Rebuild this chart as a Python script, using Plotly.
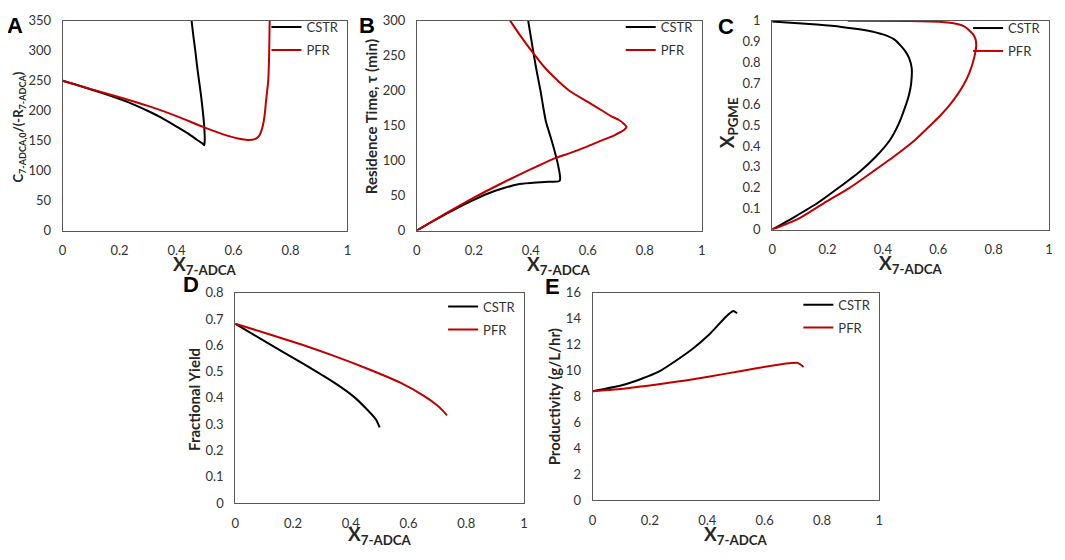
import plotly.graph_objects as go

# the page body keeps its default 8px margin: the figure is sized to fit the
# window inside it, and laid out below in window pixels
W, H = 1065, 560
OFF = 8
FW, FH = W - 2 * OFF, H - 2 * OFF
RED = "#c00000"
FONT = "Lato"

# ---- A: C7-ADCA,0/(-R7-ADCA) vs X7-ADCA
a_cstr_x = [0, 0.05, 0.1, 0.15, 0.232, 0.3, 0.348, 0.4, 0.441, 0.47, 0.49, 0.497,
            0.499, 0.497, 0.492, 0.486, 0.479, 0.472, 0.466, 0.459, 0.453, 0.447]
a_cstr_y = [250, 243, 235.5, 228, 214, 199.5, 188, 173.5, 161.7, 152, 145.5, 142.3,
            150, 175, 200, 225, 250, 275, 300, 325, 350, 375]
a_pfr_x = [0, 0.1, 0.2, 0.3, 0.4, 0.497, 0.581, 0.62, 0.65, 0.675, 0.69,
           0.703, 0.71, 0.714, 0.718, 0.722, 0.725, 0.727, 0.729]
a_pfr_y = [250, 236, 222.5, 208, 191, 172.2, 158, 153, 151.2, 152.5, 158,
           175, 195, 215, 232, 250, 290, 350, 400]

# ---- B: residence time vs X7-ADCA
b_cstr_x = [0, 0.05, 0.1, 0.15, 0.2, 0.25, 0.3, 0.36, 0.42, 0.47, 0.497, 0.502,
            0.503, 0.495, 0.486, 0.47, 0.453, 0.443, 0.434, 0.422, 0.411, 0.401,
            0.391, 0.385]
b_cstr_y = [0, 12, 23, 34, 44, 53, 60, 66.5, 68.8, 69.8, 70.3, 71.5,
            76, 95, 110, 133, 156, 178, 200, 225, 250, 275, 300, 320]
b_pfr_x = [0, 0.1, 0.2, 0.3, 0.362, 0.42, 0.488, 0.537, 0.595, 0.653, 0.69,
           0.711, 0.726, 0.736, 0.727, 0.711, 0.68, 0.653, 0.6, 0.534, 0.484,
           0.445, 0.412, 0.37, 0.328, 0.3]
b_pfr_y = [0, 24, 47, 68, 80.3, 91.5, 104, 110.7, 119.7, 129.6, 135.5,
           140, 143.5, 148, 152.5, 157.8, 164, 171, 184, 200.4, 218.5,
           235, 252, 275, 300, 320]

# ---- C: X_PGME vs X7-ADCA
c_cstr_x = [0, 0.08, 0.164, 0.24, 0.316, 0.375, 0.425, 0.455, 0.478, 0.495,
            0.502, 0.504, 0.495, 0.483, 0.465, 0.442, 0.4, 0.337, 0.25, 0.161,
            0.08, 0]
c_cstr_y = [0, 0.06, 0.127, 0.2, 0.277, 0.35, 0.428, 0.5, 0.578, 0.65,
            0.7, 0.774, 0.82, 0.85, 0.88, 0.91, 0.935, 0.955, 0.971, 0.982,
            0.99, 0.997]
c_pfr_x = [0, 0.094, 0.187, 0.28, 0.363, 0.44, 0.515, 0.572, 0.61, 0.643, 0.671,
           0.694, 0.712, 0.725, 0.734, 0.737, 0.735, 0.726, 0.715, 0.7, 0.682,
           0.65, 0.612, 0.5, 0.273]
c_pfr_y = [0, 0.051, 0.127, 0.2, 0.277, 0.35, 0.428, 0.5, 0.55, 0.6, 0.65,
           0.7, 0.75, 0.8, 0.85, 0.88, 0.91, 0.935, 0.95, 0.968, 0.98,
           0.99, 0.995, 0.999, 1.0]

# ---- D: fractional yield vs X7-ADCA
d_cstr_x = [0, 0.1145, 0.229, 0.344, 0.412, 0.458, 0.487, 0.5]
d_cstr_y = [0.682, 0.607, 0.534, 0.457, 0.403, 0.354, 0.318, 0.288]
d_pfr_x = [0, 0.1145, 0.229, 0.344, 0.458, 0.573, 0.653, 0.699, 0.72, 0.733]
d_pfr_y = [0.682, 0.643, 0.603, 0.559, 0.511, 0.457, 0.408, 0.372, 0.35, 0.334]

# ---- E: productivity vs X7-ADCA
e_cstr_x = [0, 0.115, 0.231, 0.346, 0.404, 0.461, 0.49, 0.504]
e_cstr_y = [8.4, 8.94, 9.91, 11.62, 12.71, 14.05, 14.58, 14.41]
e_pfr_x = [0, 0.115, 0.231, 0.346, 0.461, 0.577, 0.669, 0.715, 0.736]
e_pfr_y = [8.4, 8.62, 8.94, 9.3, 9.74, 10.2, 10.52, 10.59, 10.27]


def px(x, clamp=True):
    v = (x - OFF) / FW
    return min(1.0, max(0.0, v)) if clamp else v


def py(y, clamp=True):
    v = 1 - (y - OFF) / FH
    return min(1.0, max(0.0, v)) if clamp else v


# panel boxes in window pixels: left, top, right, bottom
panels = [
    dict(tag="A", box=(59, 13, 346, 229), yr=[0, 350], dy=50,
         cstr=(a_cstr_x, a_cstr_y), pfr=(a_pfr_x, a_pfr_y),
         ytitle="<b>C<sub>7-ADCA,0</sub>/(-R<sub>7-ADCA</sub>)</b>", ysize=13,
         ypos=(15, 122), letter=(11, 18), leg=17),
    dict(tag="B", box=(416, 13, 703, 229), yr=[0, 300], dy=50,
         cstr=(b_cstr_x, b_cstr_y), pfr=(b_pfr_x, b_pfr_y),
         ytitle="<b>Residence Time, τ (min)</b>", ysize=15,
         ypos=(370, 112), letter=(366, 18), leg=17),
    dict(tag="C", box=(774, 13, 1053, 228), yr=[0, 1], dy=0.1,
         cstr=(c_cstr_x, c_cstr_y), pfr=(c_pfr_x, c_pfr_y),
         ytitle="<b>X<sub>PGME</sub></b>", ysize=19,
         ypos=(729, 118), letter=(727, 19), leg=18),
    dict(tag="D", box=(233, 293, 524, 510), yr=[0, 0.8], dy=0.1,
         cstr=(d_cstr_x, d_cstr_y), pfr=(d_pfr_x, d_pfr_y),
         ytitle="<b>Fractional Yield</b>", ysize=15,
         ypos=(192, 403), letter=(188, 285), leg=305),
    dict(tag="E", box=(593, 293, 882, 507), yr=[0, 16], dy=2,
         cstr=(e_cstr_x, e_cstr_y), pfr=(e_pfr_x, e_pfr_y),
         ytitle="<b>Productivity (g/L/hr)</b>", ysize=15,
         ypos=(555, 400), letter=(553, 287), leg=303),
]

fig = go.Figure()
layout = dict(
    width=FW, height=FH,
    margin=dict(l=0, r=0, t=0, b=0),
    plot_bgcolor="white", paper_bgcolor="white",
    font=dict(family=FONT, color="#333333"),
    annotations=[],
)

axis_common = dict(
    showline=True, linecolor="#595959", linewidth=1, mirror=True,
    showgrid=False, zeroline=False,
    ticks="outside", ticklen=8, tickcolor="rgba(0,0,0,0)",
    ticklabeloverflow="allow",
    tickfont=dict(family=FONT, size=13, color="#333333"),
)

for i, p in enumerate(panels, start=1):
    sfx = "" if i == 1 else str(i)
    left, top, right, bottom = p["box"]
    leg = "legend" + sfx

    for name, (xs, ys), color in [("CSTR", p["cstr"], "black"), ("PFR", p["pfr"], RED)]:
        fig.add_trace(go.Scatter(
            x=xs, y=ys, mode="lines", name=name,
            line=dict(color=color, width=2, shape="spline", smoothing=0.6),
            xaxis="x" + sfx, yaxis="y" + sfx, legend=leg,
            legendgroup=name + sfx,
        ))

    layout["xaxis" + sfx] = dict(
        axis_common, domain=[px(left), px(right)], range=[0, 1], dtick=0.2,
        anchor="y" + sfx,
    )
    layout["yaxis" + sfx] = dict(
        axis_common, domain=[py(bottom), py(top)], range=p["yr"], dtick=p["dy"],
        anchor="x" + sfx,
    )
    layout[leg] = dict(
        x=px(right - 3), xanchor="right", y=py(p["leg"] - 13, clamp=False),
        yanchor="top", bgcolor="rgba(0,0,0,0)",
        font=dict(family=FONT, size=13, color="#333333"),
        itemwidth=30, tracegroupgap=3, traceorder="grouped",
    )

    ann = layout["annotations"]
    # x title, kept inside the bottom edge of the page
    xt = min(bottom + 36, H - OFF - 9)
    ann.append(dict(
        text="<b>X<sub>7-ADCA</sub></b>", x=px((left + right) / 2), y=py(xt),
        xref="paper", yref="paper", showarrow=False, xanchor="center", yanchor="middle",
        font=dict(family=FONT, size=19, color="#262626"),
    ))
    # y title
    ann.append(dict(
        text=p["ytitle"], x=px(p["ypos"][0]), y=py(p["ypos"][1]), textangle=-90,
        xref="paper", yref="paper", showarrow=False, xanchor="center", yanchor="middle",
        font=dict(family=FONT, size=p["ysize"], color="#262626"),
    ))
    # panel letter
    ann.append(dict(
        text="<b>%s</b>" % p["tag"], x=px(p["letter"][0]), y=py(p["letter"][1]),
        xref="paper", yref="paper", showarrow=False, xanchor="center", yanchor="middle",
        font=dict(family="Liberation Sans", size=22, color="black"),
    ))

fig.update_layout(**layout)
fig.write_html("out.html")
